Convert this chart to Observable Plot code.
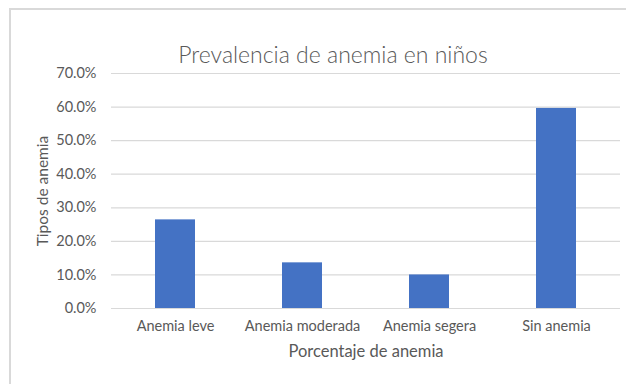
<!DOCTYPE html>
<html>
<head>
<meta charset="utf-8">
<script src="https://cdn.jsdelivr.net/npm/d3@7"></script>
<script src="https://cdn.jsdelivr.net/npm/@observablehq/plot@0.6"></script>
<style>
  html, body { margin: 0; padding: 0; background: #ffffff; }
  #chart {
    position: relative;
    width: 626px;
    height: 384px;
    overflow: hidden;
    font-family: Lato, "Open Sans", sans-serif;
  }
  #frame {
    position: absolute;
    left: 9px;
    top: 8px;
    width: 640px;
    height: 400px;
    border: 2px solid #d9d9d9;
    box-sizing: border-box;
  }
  #title {
    position: absolute;
    left: 0;
    width: 666px;
    top: 42px;
    line-height: 24px;
    text-align: center;
    font-size: 23px;
    font-weight: 300;
    color: #595959;
    white-space: nowrap;
  }
  #plot { position: absolute; left: 0; top: 0; }
</style>
</head>
<body>
<div id="chart">
  <div id="frame"></div>
  <div id="plot"></div>
  <div id="title">Prevalencia de anemia en niños</div>
</div>
<script>
// Anemia categories and their share of children
const categories = ["Anemia leve", "Anemia moderada", "Anemia segera", "Sin anemia"];
const shares = [0.264, 0.136, 0.100, 0.596];
const yTicks = [0, 0.1, 0.2, 0.3, 0.4, 0.5, 0.6, 0.7];
const xTitle = "Porcentaje de anemia";
const yTitle = "Tipos de anemia";

const rows = categories.map((c, i) => ({category: c, share: shares[i]}));
const grey = "#595959";

const chart = Plot.plot({
  width: 626,
  height: 384,
  marginLeft: 111,
  marginRight: 6,
  marginTop: 73,
  marginBottom: 76,
  style: {fontFamily: "Lato, 'Open Sans', sans-serif", fontSize: "14px", color: grey, background: "transparent"},
  x: {domain: categories, paddingInner: 0.685, paddingOuter: 0.3425, label: null},
  y: {domain: [0, 0.7], label: null},
  marks: [
    Plot.gridY(yTicks, {stroke: "#d9d9d9", strokeOpacity: 1, strokeWidth: 1.2}),
    Plot.axisY(yTicks, {tickSize: 0, tickPadding: 15, tickFormat: d3.format(".1%"), label: null, fill: grey, fontSize: 14.5}),
    Plot.axisX({tickSize: 0, tickPadding: 12, label: null, fill: grey, fontSize: 14.5}),
    Plot.barY(rows, {x: "category", y: "share", fill: "#4472c4"}),
    Plot.text([xTitle], {frameAnchor: "bottom", dy: 48, text: d => d, fill: grey, fontSize: 16.5}),
    Plot.text([yTitle], {frameAnchor: "left", dx: -68, rotate: -90, textAnchor: "middle", text: d => d, fill: grey, fontSize: 15.5})
  ]
});
document.getElementById("plot").appendChild(chart);
</script>
</body>
</html>
